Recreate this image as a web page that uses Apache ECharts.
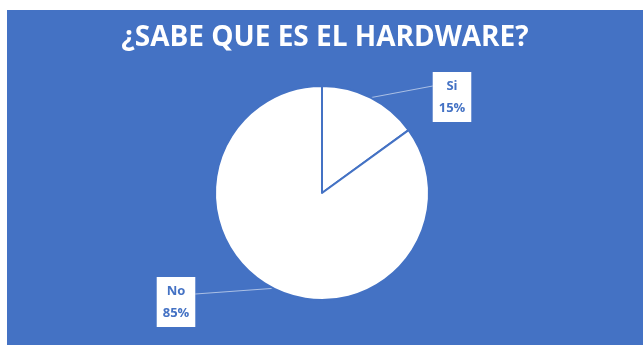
<!DOCTYPE html>
<html><head><meta charset="utf-8">
<script src="https://cdn.jsdelivr.net/npm/echarts@6/dist/echarts.min.js"></script>
<style>html,body{margin:0;padding:0;background:#fff;width:643px;height:345px;overflow:hidden}
#c{position:absolute;left:7px;top:10px;width:636px;height:335px}</style>
</head><body><div id="c"></div>
<script>
const categories = ['Si', 'No'];
const values = [15, 85];
const titleText = '¿SABE QUE ES EL HARDWARE?';
const labelPos = [[445, 87], [169, 292]];

const chart = echarts.init(document.getElementById('c'), null, {renderer: 'canvas'});
chart.setOption({
  backgroundColor: '#4472C4',
  animation: false,
  title: {
    text: titleText, left: 'center', top: 9,
    textStyle: {color: '#fff', fontFamily: 'Open Sans', fontWeight: 'bold', fontSize: 28}
  },
  series: [{
    type: 'pie',
    center: [315, 183],
    radius: [0, 107],
    startAngle: 90,
    clockwise: true,
    data: categories.map((c, i) => ({name: c, value: values[i]})),
    itemStyle: {color: '#fff', borderColor: '#4472C4', borderWidth: 2},
    label: {
      show: true, position: 'outside',
      formatter: '{b}\n{d}%',
      color: '#4472C4', fontFamily: 'Open Sans', fontWeight: 'bold', fontSize: 13,
      lineHeight: 22, backgroundColor: '#fff', padding: [3, 6], align: 'center'
    },
    labelLine: {show: true, length: 10, length2: 10, smooth: false,
      lineStyle: {color: 'rgba(255,255,255,0.55)', width: 1}},
    labelLayout: function (p) {
      const pos = labelPos[p.dataIndex];
      const w = p.labelRect.width, h = p.labelRect.height;
      const start = p.labelLinePoints ? p.labelLinePoints[0] : null;
      const res = {x: pos[0], y: pos[1], align: 'center', verticalAlign: 'middle'};
      if (start) {
        const onRight = pos[0] > start[0];
        const end = [onRight ? pos[0] - w / 2 : pos[0] + w / 2, pos[1] - h / 2 + (onRight ? 14 : 17)];
        res.labelLinePoints = [start, start, end];
      }
      return res;
    },
    emphasis: {disabled: true}
  }]
});
</script></body></html>
